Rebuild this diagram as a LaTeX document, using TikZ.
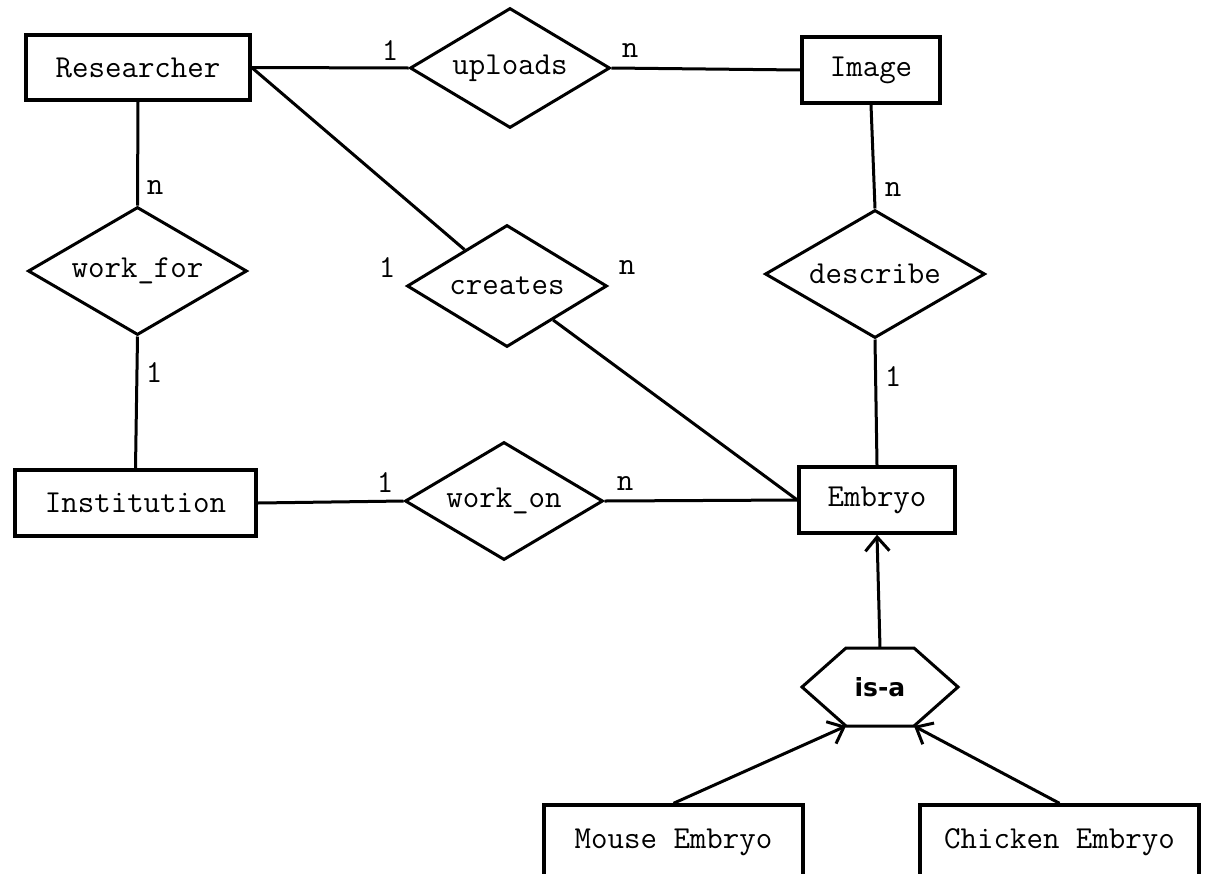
\documentclass[tikz,border=0pt]{standalone}
\usepackage{fontspec}
\newfontfamily\isafont{DejaVu Sans}
\usetikzlibrary{shapes.geometric,arrows.meta}
\newcommand{\erfont}{\ttfamily\fontsize{32pt}{34pt}\selectfont}
\tikzset{
  ent/.style={draw, line width=3.4pt, rectangle, inner sep=0pt, font=\erfont},
  rel/.style={draw, line width=3pt, diamond, aspect=1.7, inner sep=0pt, font=\erfont},
  card/.style={inner sep=0pt, font=\erfont},
  conn/.style={line width=3pt},
  isarrow/.style={line width=3pt, -{Straight Barb[length=14pt,width=24pt]}},
}
\begin{document}
\begin{tikzpicture}[x=1pt,y=-1pt]
\clip (0,0) rectangle (1214,873);
\fill[white] (0,0) rectangle (1214,873);
% entities
\node[ent, minimum width=224pt, minimum height=65pt] (Researcher) at (138,67.5) {Researcher};
\node[ent, minimum width=138pt, minimum height=66pt] (Image) at (871,70) {Image};
\node[ent, minimum width=241pt, minimum height=66pt] (Institution) at (135.5,503) {Institution};
\node[ent, minimum width=156pt, minimum height=66pt] (Embryo) at (877,500) {Embryo};
\node[ent, minimum width=259pt, minimum height=74pt] (Mouse) at (673.5,842) {Mouse Embryo};
\node[ent, minimum width=279pt, minimum height=74pt] (Chicken) at (1059.5,842) {Chicken Embryo};
% relationships
\node[rel, minimum width=200pt, minimum height=120pt] (uploads) at (510,68) {uploads};
\node[rel, minimum width=200pt, minimum height=122pt] (creates) at (507,286) {creates};
\node[rel, minimum width=219pt, minimum height=128pt] (workfor) at (137.5,271) {work\_for};
\node[rel, minimum width=220pt, minimum height=128pt] (describe) at (875,274) {describe};
\node[rel, minimum width=198pt, minimum height=118pt] (workon) at (504,501) {work\_on};
% is-a hexagon
\node[inner sep=0pt, font=\isafont\bfseries\fontsize{25pt}{27pt}\selectfont] (isa) at (880,687) {is-a};
\coordinate (isaT) at (880,648);
\coordinate (isaBL) at (846,726);
\coordinate (isaBR) at (914,726);
\draw[line width=3pt, line join=miter] (846,648) -- (914,648) -- (958,687) -- (isaBR) -- (isaBL) -- (802,687) -- cycle;
% connectors
\draw[conn] (Researcher.east) -- (uploads.west);
\draw[conn] (uploads.east) -- (Image.west);
\draw[conn] (Researcher.east) -- (creates);
\draw[conn] (creates) -- (Embryo.west);
\draw[conn] (Researcher.south) -- (workfor.north);
\draw[conn] (workfor.south) -- (Institution.north);
\draw[conn] (Institution.east) -- (workon.west);
\draw[conn] (workon.east) -- (Embryo.west);
\draw[conn] (Image.south) -- (describe.north);
\draw[conn] (describe.south) -- (Embryo.north);
\draw[isarrow] (isaT) -- (Embryo.south);
\draw[isarrow] (Mouse.north) -- (isaBL);
\draw[isarrow] (Chicken.north) -- (isaBR);
% cardinalities
\node[card] (c1) at (390,51) {1};
\node[card] (c2) at (630,51) {n};
\node[card] (c3) at (387,268) {1};
\node[card] (c4) at (627,268) {n};
\node[card] (c5) at (155,188) {n};
\node[card] (c6) at (154,373) {1};
\node[card] (c7) at (893,190) {n};
\node[card] (c8) at (893,377) {1};
\node[card] (c9) at (385,483) {1};
\node[card] (c10) at (625,483) {n};
\end{tikzpicture}
\end{document}
